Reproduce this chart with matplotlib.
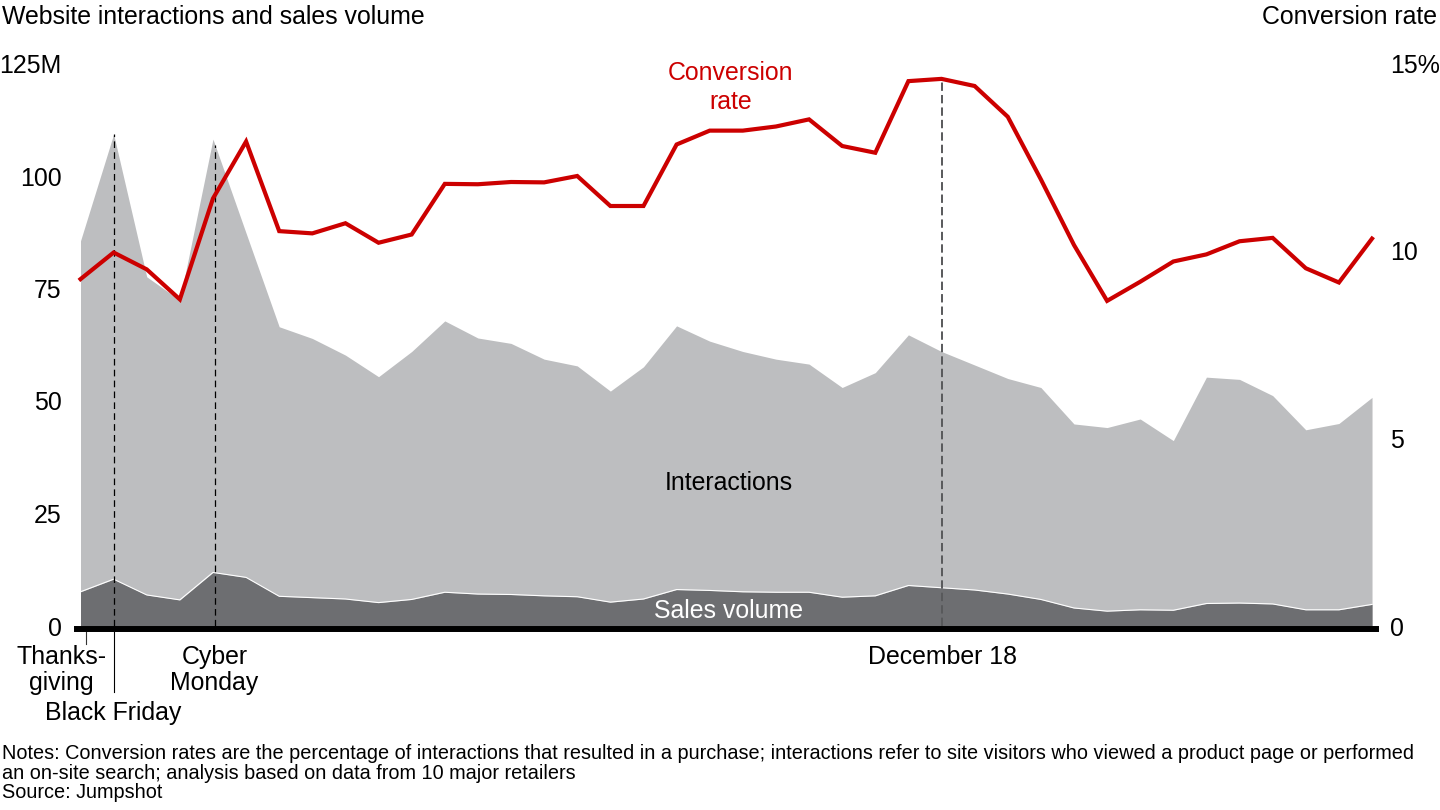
import matplotlib
matplotlib.use("Agg")
import matplotlib.pyplot as plt

plt.rcParams['font.family'] = ['Liberation Sans', 'DejaVu Sans']

# ---- data ----
days = list(range(40))
interactions = [85.6, 109.3, 77.6, 72.4, 108.2, 87.3, 66.5, 63.9, 60.2, 55.4,
                61.0, 67.8, 64.0, 62.8, 59.3, 57.8, 52.2, 57.6, 66.7, 63.3,
                61.0, 59.3, 58.2, 53.0, 56.3, 64.7, 61.0, 58.0, 55.0, 53.0,
                44.9, 44.1, 46.0, 41.2, 55.3, 54.8, 51.2, 43.6, 45.0, 50.8]
sales = [7.6, 10.4, 6.9, 5.8, 11.9, 10.8, 6.6, 6.3, 6.0, 5.2,
         5.9, 7.5, 7.1, 7.0, 6.7, 6.5, 5.3, 6.0, 8.1, 7.9,
         7.6, 7.5, 7.5, 6.4, 6.7, 9.0, 8.5, 8.0, 7.1, 5.9,
         4.0, 3.3, 3.6, 3.5, 5.0, 5.1, 4.9, 3.6, 3.6, 4.8]
conversion = [9.25, 9.96, 9.51, 8.71, 11.4, 12.92, 10.53, 10.47, 10.74, 10.22,
              10.44, 11.79, 11.78, 11.84, 11.83, 12.0, 11.2, 11.2, 12.84, 13.21,
              13.21, 13.32, 13.51, 12.8, 12.62, 14.53, 14.59, 14.4, 13.58, 11.91,
              10.16, 8.67, 9.18, 9.72, 9.91, 10.26, 10.35, 9.54, 9.16, 10.33]

left_ticks = [0, 25, 50, 75, 100, 125]
left_labels = ['0', '25', '50', '75', '100', '125M']
right_ticks = [0, 5, 10, 15]
right_labels = ['0', '5', '10', '15%']

thanksgiving_idx = 0
black_friday_idx = 1
cyber_monday_idx = 4
december18_idx = 26

# ---- style ----
W, H = 1440, 810
LIGHT = '#BDBEC0'
DARK = '#6D6E71'
RED = '#CC0000'
FS = 17.9
FS_NOTE = 14.27

fig = plt.figure(figsize=(W / 100, H / 100), dpi=100)

ax_l, ax_r = 77, 1376
y0, y125 = 626, 63.5
ax = fig.add_axes([ax_l / W, (H - y0) / H, (ax_r - ax_l) / W, (y0 - y125) / H])
ax.set_xlim(-0.106, 39.12)
ax.set_ylim(0, 125)

ax.fill_between(days, 0, interactions, color=LIGHT, lw=0, zorder=1)
ax.fill_between(days, 0, sales, color=DARK, lw=0, zorder=2)
ax.plot(days, sales, color='white', lw=0.8, zorder=3)

# event lines
ax.plot([black_friday_idx, black_friday_idx], [0, interactions[black_friday_idx]],
        color='black', lw=0.9, linestyle=(0, (5.3, 3.4)), zorder=4)
ax.plot([cyber_monday_idx + 0.05, cyber_monday_idx + 0.05], [0, interactions[cyber_monday_idx] - 1.3],
        color='black', lw=0.9, linestyle=(0, (5.3, 3.4)), zorder=4)

for s in ['top', 'left', 'right']:
    ax.spines[s].set_visible(False)
ax.spines['bottom'].set_position(('outward', 2.2))
ax.spines['bottom'].set_linewidth(4.3)
ax.spines['bottom'].set_color('black')
ax.set_xticks([])
ax.set_yticks(left_ticks)
ax.set_yticklabels(left_labels, fontsize=FS)
ax.tick_params(axis='y', length=0, pad=10.9)

# below-axis markers (thanksgiving tick, black friday connector)
ax.plot([thanksgiving_idx + 0.157] * 2, [-1.3, -4.0], color='#333333', lw=0.8, clip_on=False)
ax.plot([black_friday_idx] * 2, [-1.3, -14.7], color='black', lw=0.8, clip_on=False)

axr = ax.twinx()
axr.set_ylim(0, 15)
axr.set_xlim(-0.106, 39.12)
for s in axr.spines.values():
    s.set_visible(False)
axr.set_yticks(right_ticks)
axr.set_yticklabels(right_labels, fontsize=FS)
axr.tick_params(axis='y', length=0, pad=9.9)

axr.plot([december18_idx, december18_idx], [0, conversion[december18_idx]],
         color='#58595B', lw=1.4, linestyle=(0, (4.3, 2.1)), zorder=4)
axr.plot(days, conversion, color=RED, lw=3.0, solid_joinstyle='miter', zorder=5)


def ftext(x, y, s, **kw):
    fig.text(x / W, 1 - y / H, s, va='baseline', **kw)


ftext(2, 24, 'Website interactions and sales volume', fontsize=FS, ha='left')
ftext(1437, 24, 'Conversion rate', fontsize=FS, ha='right')

ftext(730.5, 80, 'Conversion', fontsize=FS, ha='center', color=RED)
ftext(731, 109, 'rate', fontsize=FS, ha='center', color=RED)
ftext(728.5, 490.5, 'Interactions', fontsize=FS, ha='center')
ftext(729, 618.3, 'Sales volume', fontsize=FS, ha='center', color='white')

ftext(61.5, 664.3, 'Thanks-', fontsize=FS, ha='center')
ftext(61.5, 690, 'giving', fontsize=FS, ha='center')
ftext(113, 720, 'Black Friday', fontsize=FS, ha='center')
ftext(214.5, 664.3, 'Cyber', fontsize=FS, ha='center')
ftext(214.5, 690, 'Monday', fontsize=FS, ha='center')
ftext(942, 663.5, 'December 18', fontsize=FS, ha='center')

ftext(2, 759.3, 'Notes: Conversion rates are the percentage of interactions that resulted in a purchase; '
      'interactions refer to site visitors who viewed a product page or performed', fontsize=FS_NOTE, ha='left')
ftext(2, 779.3, 'an on-site search; analysis based on data from 10 major retailers', fontsize=FS_NOTE, ha='left')
ftext(2, 798.5, 'Source: Jumpshot', fontsize=FS_NOTE, ha='left')

fig.savefig('out.png', dpi=100)
